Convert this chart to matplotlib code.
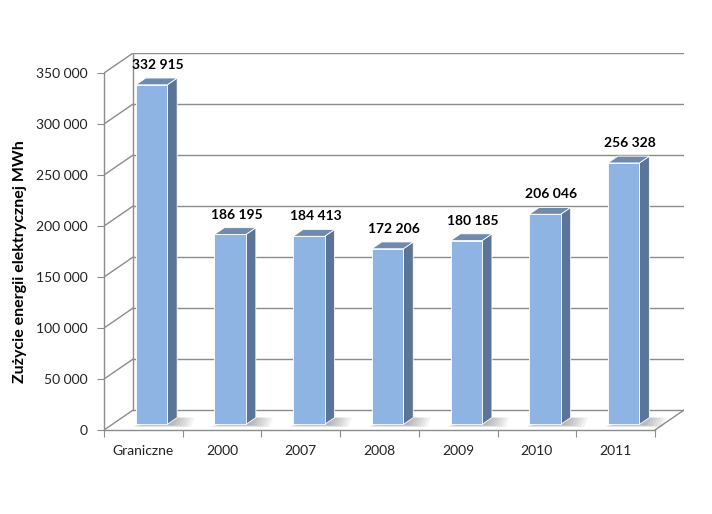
import numpy as np
import matplotlib.pyplot as plt
from matplotlib.patches import Polygon

# data
categories = ['Graniczne', '2000', '2007', '2008', '2009', '2010', '2011']
values = [332915, 186195, 184413, 172206, 180185, 206046, 256328]
y_ticks = [0, 50000, 100000, 150000, 200000, 250000, 300000, 350000]
y_label = 'Zużycie energii elektrycznej MWh'


def fmt(v):
    return '{:,}'.format(v).replace(',', ' ')


plt.rcParams['font.family'] = ['Lato', 'DejaVu Sans']

# fake 3D geometry (depth of the floor, in data units)
ddx = 0.37
ddy = 19600
f0, f1 = 0.28, 0.62      # bar front / back depth fraction
bw = 0.40                # bar width
ymax = 350000

col_front = '#8db4e3'
col_side = '#5b7597'
col_top = '#6d8bb1'
col_grid = '#8c8c8c'

fig = plt.figure(figsize=(7.12, 5.14), dpi=100)
ax = fig.add_axes([0.1461, 0.1634, 0.8146, 0.7335])
n = len(categories)
ax.set_xlim(0, n + ddx)
ax.set_ylim(0, ymax + ddy)

# back wall gridlines and side wall diagonals
for v in y_ticks:
    ax.plot([ddx, n + ddx], [v + ddy, v + ddy], color=col_grid, lw=1, zorder=1)
    ax.plot([0, ddx], [v, v + ddy], color=col_grid, lw=1, zorder=1)
ax.plot([ddx, ddx], [ddy, ymax + ddy], color=col_grid, lw=1, zorder=1)
# floor right edge
ax.plot([n, n + ddx], [0, ddy], color=col_grid, lw=1, zorder=1)

# bars
for i, v in enumerate(values):
    c = i + 0.5
    xl, xr = c - bw / 2, c + bw / 2
    a0x, a0y = f0 * ddx, f0 * ddy
    a1x, a1y = f1 * ddx, f1 * ddy
    # soft floor shadow
    for k in range(7):
        s = 0.30 - k * 0.04
        ax.add_patch(Polygon([(xl + a0x - 0.04 + k * 0.006, a0y - 2500 + k * 300),
                              (xr + a0x + s, a0y - 2500 + k * 300),
                              (xr + a1x + s - 0.08, a1y),
                              (xr + a1x, a1y)],
                             closed=True, facecolor='#505050', edgecolor='none',
                             alpha=0.07, zorder=2, clip_on=False))
    ax.add_patch(Polygon([(xr + a0x, a0y), (xr + a1x, a1y),
                          (xr + a1x, v + a1y), (xr + a0x, v + a0y)],
                         closed=True, facecolor=col_side, edgecolor='white',
                         lw=0.6, zorder=3, clip_on=False))
    ax.add_patch(Polygon([(xl + a0x, v + a0y), (xr + a0x, v + a0y),
                          (xr + a1x, v + a1y), (xl + a1x, v + a1y)],
                         closed=True, facecolor=col_top, edgecolor='white',
                         lw=0.6, zorder=3, clip_on=False))
    ax.add_patch(Polygon([(xl + a0x, a0y), (xr + a0x, a0y),
                          (xr + a0x, v + a0y), (xl + a0x, v + a0y)],
                         closed=True, facecolor=col_front, edgecolor='white',
                         lw=0.6, zorder=4, clip_on=False))
    ax.text(c + (a0x + a1x) / 2 + 0.02, v + a1y + 7000, fmt(v), ha='center',
            va='bottom', fontsize=10, fontweight='bold', color='black',
            zorder=5)

# axes
for s in ['top', 'right']:
    ax.spines[s].set_visible(False)
ax.spines['left'].set_bounds(0, ymax)
ax.spines['bottom'].set_bounds(0, n)
for s in ['left', 'bottom']:
    ax.spines[s].set_color(col_grid)
    ax.spines[s].set_linewidth(1)

ax.set_yticks(y_ticks)
ax.set_yticklabels([fmt(v) for v in y_ticks])
ax.set_xticks(np.arange(n + 1))
ax.set_xticklabels([])
ax.set_xticks(np.arange(n) + 0.5, minor=True)
ax.set_xticklabels(categories, minor=True)
ax.tick_params(axis='y', length=5, color=col_grid, labelsize=10,
               labelcolor='#222222', pad=7)
ax.tick_params(axis='x', which='major', length=5, color=col_grid)
ax.tick_params(axis='x', which='minor', length=0, labelsize=10,
               labelcolor='#222222', pad=11)

fig.text(20 / 712, 1 - 262 / 514, y_label, rotation=90, ha='center',
         va='center', fontsize=11.5, fontweight='bold')

fig.savefig('out.png', dpi=100)
